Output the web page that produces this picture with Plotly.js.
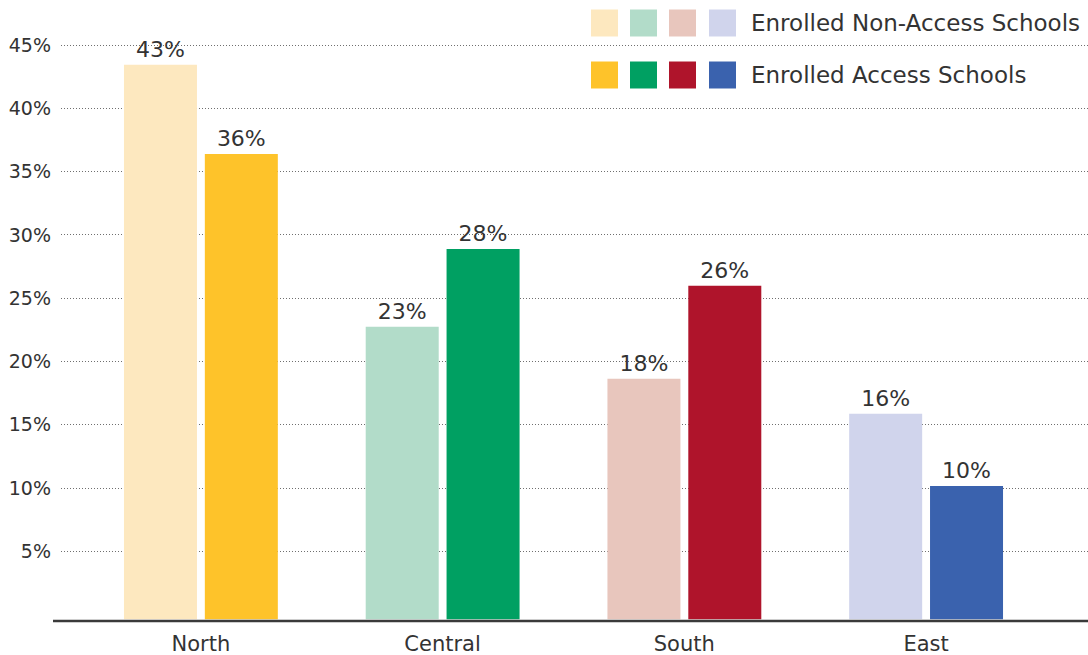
<!DOCTYPE html>
<html>
<head>
<meta charset="utf-8">
<script src="https://cdn.plot.ly/plotly-3.0.1.min.js"></script>
<style>html,body{margin:0;padding:0;background:#fff;}#chart{width:1088px;height:655px;}</style>
</head>
<body>
<div id="chart"></div>
<script>
const regions = ["North", "Central", "South", "East"];
const nonAccessValues = [43.45, 22.75, 18.64, 15.87];
const accessValues = [36.39, 28.89, 25.99, 10.16];
const nonAccessLabels = ["43%", "23%", "18%", "16%"];
const accessLabels = ["36%", "28%", "26%", "10%"];
const nonAccessColors = ["#FDE8BF", "#B2DCC9", "#E8C6BD", "#D0D4EC"];
const accessColors = ["#FEC32A", "#00A062", "#AF142B", "#3A62AE"];
const seriesNames = ["Enrolled Non-Access Schools", "Enrolled Access Schools"];
const yTickVals = [5, 10, 15, 20, 25, 30, 35, 40, 45];
const yTickText = ["5%", "10%", "15%", "20%", "25%", "30%", "35%", "40%", "45%"];

const FONT = "DejaVu Sans";
const TXT = "#333333";
const BASE = -0.37;
const BW = 0.302;

const traces = [
  {
    type: "bar", x: regions, y: nonAccessValues.map(v => v - BASE), base: BASE,
    width: BW, offset: -0.318, name: seriesNames[0],
    marker: {color: nonAccessColors},
    text: nonAccessLabels, textposition: "outside", constraintext: "none",
    textfont: {family: FONT, size: 22, color: TXT}, cliponaxis: false, hoverinfo: "skip"
  },
  {
    type: "bar", x: regions, y: accessValues.map(v => v - BASE), base: BASE,
    width: BW, offset: 0.0165, name: seriesNames[1],
    marker: {color: accessColors},
    text: accessLabels, textposition: "outside", constraintext: "none",
    textfont: {family: FONT, size: 22, color: TXT}, cliponaxis: false, hoverinfo: "skip"
  }
];

const shapes = [];
const annotations = [];
// baseline axis line
shapes.push({type: "line", xref: "paper", yref: "paper", x0: -8/1027, x1: 1, y0: 0, y1: 0,
  line: {color: "#3a3a3a", width: 2.5}});

// custom legend
const sqX = [591, 630, 669, 709];
const rows = [{colors: nonAccessColors, y: 23, name: seriesNames[0]}, {colors: accessColors, y: 75, name: seriesNames[1]}];
rows.forEach(r => {
  r.colors.forEach((c, i) => {
    const x0 = (sqX[i] - 61) / 1027, x1 = (sqX[i] + 27 - 61) / 1027;
    const y0 = 1 - (r.y - 13.5) / 621, y1 = 1 - (r.y + 13.5) / 621;
    shapes.push({type: "rect", xref: "paper", yref: "paper", x0: x0, x1: x1, y0: y1, y1: y0,
      fillcolor: c, line: {width: 0}, layer: "above"});
  });
  annotations.push({xref: "paper", yref: "paper", x: (749 - 61) / 1027, y: 1 - r.y / 621,
    xanchor: "left", yanchor: "middle", showarrow: false, text: r.name,
    font: {family: FONT, size: 23, color: TXT}});
});

const layout = {
  width: 1088, height: 655,
  margin: {l: 61, r: 0, t: 0, b: 34},
  paper_bgcolor: "#ffffff", plot_bgcolor: "#ffffff",
  showlegend: false,
  barmode: "group",
  font: {family: FONT, color: TXT},
  xaxis: {
    type: "category", range: [-0.5785, 3.67],
    showgrid: false, zeroline: false, showline: false, ticks: "",
    tickfont: {family: FONT, size: 21, color: TXT}, ticklabelstandoff: 8
  },
  yaxis: {
    range: [-0.506, 48.56],
    tickvals: yTickVals, ticktext: yTickText,
    showgrid: true, gridcolor: "#6f6f6f", gridwidth: 1, griddash: "1px,2px",
    zeroline: false, showline: false, ticks: "",
    tickfont: {family: FONT, size: 19, color: TXT}, ticklabelstandoff: 9
  },
  shapes: shapes,
  annotations: annotations
};

Plotly.newPlot("chart", traces, layout, {displayModeBar: false, staticPlot: true});
</script>
</body>
</html>
